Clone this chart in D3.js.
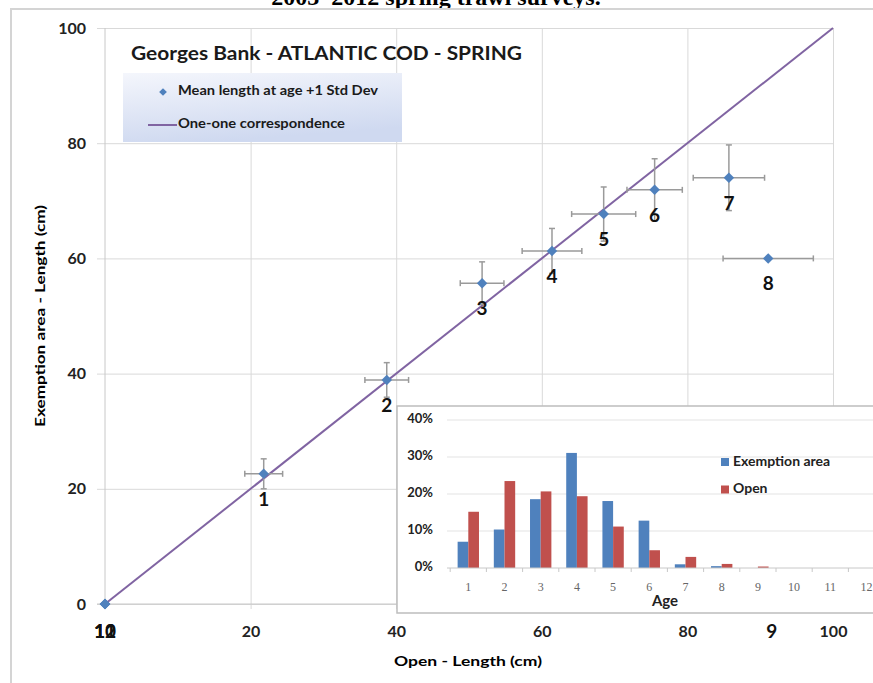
<!DOCTYPE html>
<html>
<head>
<meta charset="utf-8">
<script src="https://cdn.jsdelivr.net/npm/d3@7"></script>
<style>
body { margin: 0; background: #fff; }
text { font-family: Lato, "Open Sans", sans-serif; }
</style>
</head>
<body>
<div id="chart"></div>
<script>
const width = 873;
const height = 683;

// Mean length at age (cm), open area vs exemption area, with 1 std dev
const ages = [1, 2, 3, 4, 5, 6, 7, 8, 9, 10, 11, 12];
const openLen = [21.8, 38.7, 51.8, 61.4, 68.5, 75.5, 85.7, 91.1, 91.6, 0, 0, 0];
const exemptLen = [22.6, 38.9, 55.7, 61.3, 67.7, 71.9, 74.0, 60.0, 0, 0, 0, 0];
const openSd = [2.6, 3.0, 3.0, 4.1, 4.4, 3.8, 4.9, 6.2, 0, 0, 0, 0];
const exemptSd = [2.6, 3.0, 3.7, 3.9, 4.7, 5.4, 5.7, 0, 0, 0, 0, 0];

const xTicks = [20, 40, 60, 80, 100];
const yTicks = [0, 20, 40, 60, 80, 100];

// Inset: proportion at age (%)
const exemptPct = [7.1, 10.4, 18.6, 31.1, 18.1, 12.8, 1.0, 0.5, 0, 0, 0, 0];
const openPct = [15.2, 23.5, 20.7, 19.4, 11.2, 4.8, 3.0, 1.1, 0.4, 0, 0, 0];
const pctTicks = [0, 10, 20, 30, 40];

const blue = "#4f81bd";
const red = "#c0504d";
const purple = "#8064a2";
const gridCol = "#d9d9d9";

const svg = d3.select("#chart").append("svg")
    .attr("width", width)
    .attr("height", height);

// caption cut off by the top of the picture
svg.append("text")
    .attr("x", 436).attr("y", 5)
    .attr("text-anchor", "middle")
    .style("font-family", "'Liberation Serif', serif")
    .style("font-weight", "bold")
    .style("font-size", "24px")
    .text("2003–2012 spring trawl surveys.");

// chart frame
svg.append("path")
    .attr("d", "M11,683 V9 H873")
    .attr("fill", "none")
    .attr("stroke", "#d4d4d4")
    .attr("stroke-width", 2);

const x = d3.scaleLinear().domain([0, 100]).range([105, 833]);
const y = d3.scaleLinear().domain([0, 100]).range([604, 28]);

// y grid + labels
const yAxis = svg.append("g")
    .attr("transform", "translate(97,0)")
    .call(d3.axisLeft(y).tickValues(yTicks).tickSize(-(833 - 97)).tickPadding(11));
yAxis.select(".domain").remove();
yAxis.selectAll("line").attr("stroke", gridCol);
yAxis.selectAll("text")
    .style("font-size", "16px").style("font-weight", "bold").attr("fill", "#222");

// x grid + labels
const xAxis = svg.append("g")
    .attr("transform", "translate(0,609)")
    .call(d3.axisBottom(x).tickValues(xTicks).tickSize(-(609 - 28)).tickPadding(17));
xAxis.select(".domain").remove();
xAxis.selectAll("line").attr("stroke", gridCol);
xAxis.selectAll("text")
    .style("font-size", "16px").style("font-weight", "bold").attr("fill", "#222");

// axis lines
svg.append("line").attr("x1", x(0)).attr("x2", x(0)).attr("y1", y(100)).attr("y2", y(0))
    .attr("stroke", "#c8c8c8");
svg.append("line").attr("x1", 97).attr("x2", x(100)).attr("y1", y(0)).attr("y2", y(0))
    .attr("stroke", "#c8c8c8");

// axis titles
svg.append("text")
    .attr("transform", "translate(41,316) rotate(-90)")
    .attr("text-anchor", "middle")
    .attr("dominant-baseline", "middle")
    .attr("textLength", 222).attr("lengthAdjust", "spacingAndGlyphs")
    .style("font-size", "14px").style("font-weight", "bold")
    .text("Exemption area - Length (cm)");

svg.append("text")
    .attr("x", 468).attr("y", 662)
    .attr("text-anchor", "middle")
    .attr("dominant-baseline", "middle")
    .attr("textLength", 148).attr("lengthAdjust", "spacingAndGlyphs")
    .style("font-size", "14px").style("font-weight", "bold")
    .text("Open - Length (cm)");

// one-one line
svg.append("line")
    .attr("x1", x(0)).attr("y1", y(0))
    .attr("x2", x(100)).attr("y2", y(100))
    .attr("stroke", purple).attr("stroke-width", 2);

const pts = ages.map((a, i) => ({
    age: a, ox: openLen[i], ey: exemptLen[i], osd: openSd[i], esd: exemptSd[i]
}));

// error bars
const eb = svg.append("g").attr("stroke", "#9a9a9a").attr("stroke-width", 1.5);
pts.filter(d => d.osd > 0).forEach(d => {
    eb.append("line").attr("x1", x(d.ox - d.osd)).attr("x2", x(d.ox + d.osd))
        .attr("y1", y(d.ey)).attr("y2", y(d.ey));
    [d.ox - d.osd, d.ox + d.osd].forEach(v => {
        eb.append("line").attr("x1", x(v)).attr("x2", x(v))
            .attr("y1", y(d.ey) - 3).attr("y2", y(d.ey) + 3);
    });
});
pts.filter(d => d.esd > 0).forEach(d => {
    eb.append("line").attr("x1", x(d.ox)).attr("x2", x(d.ox))
        .attr("y1", y(d.ey - d.esd)).attr("y2", y(d.ey + d.esd));
    [d.ey - d.esd, d.ey + d.esd].forEach(v => {
        eb.append("line").attr("x1", x(d.ox) - 3).attr("x2", x(d.ox) + 3)
            .attr("y1", y(v)).attr("y2", y(v));
    });
});

// points
const diamond = d3.symbol().type(d3.symbolSquare).size(55);
svg.append("g").selectAll("path")
    .data(pts)
    .join("path")
    .attr("d", diamond)
    .attr("transform", d => `translate(${x(d.ox)},${y(d.ey)}) rotate(45)`)
    .attr("fill", blue);

// age labels
svg.append("g").selectAll("text")
    .data(pts)
    .join("text")
    .attr("x", d => x(d.ox))
    .attr("y", d => y(d.ey) + (d.ey === 0 ? 29 : 27))
    .attr("text-anchor", "middle")
    .attr("dominant-baseline", "middle")
    .style("font-size", "19px").style("font-weight", "bold")
    .attr("fill", "#111")
    .text(d => d.age);

// title + legend
svg.append("text")
    .attr("x", 131).attr("y", 55)
    .attr("dominant-baseline", "middle")
    .attr("textLength", 391).attr("lengthAdjust", "spacingAndGlyphs")
    .style("font-size", "19px").style("font-weight", "bold")
    .attr("fill", "#1a1a1a")
    .text("Georges Bank - ATLANTIC COD - SPRING");

const grad = svg.append("defs").append("linearGradient")
    .attr("id", "legGrad")
    .attr("x1", "0%").attr("y1", "0%").attr("x2", "30%").attr("y2", "100%");
grad.append("stop").attr("offset", "0%").attr("stop-color", "#f4f6fc");
grad.append("stop").attr("offset", "100%").attr("stop-color", "#cfd9f0");

svg.append("rect")
    .attr("x", 123).attr("y", 73).attr("width", 279).attr("height", 69)
    .attr("fill", "url(#legGrad)");
svg.append("path")
    .attr("d", d3.symbol().type(d3.symbolSquare).size(30))
    .attr("transform", "translate(163,92) rotate(45)")
    .attr("fill", blue);
svg.append("text")
    .attr("x", 178).attr("y", 92).attr("dominant-baseline", "middle")
    .attr("textLength", 200).attr("lengthAdjust", "spacingAndGlyphs")
    .style("font-size", "13px").style("font-weight", "bold").attr("fill", "#1a1a1a")
    .text("Mean length at age +1 Std Dev");
svg.append("line")
    .attr("x1", 148).attr("x2", 177).attr("y1", 125).attr("y2", 125)
    .attr("stroke", purple).attr("stroke-width", 2);
svg.append("text")
    .attr("x", 178).attr("y", 125).attr("dominant-baseline", "middle")
    .attr("textLength", 167).attr("lengthAdjust", "spacingAndGlyphs")
    .style("font-size", "13px").style("font-weight", "bold").attr("fill", "#1a1a1a")
    .text("One-one correspondence");

// ---- inset bar chart ----
const inset = svg.append("g");
inset.append("rect")
    .attr("x", 397).attr("y", 406).attr("width", 490).attr("height", 207)
    .attr("fill", "#fff").attr("stroke", "#bdbdbd").attr("stroke-width", 1.5);

const yi = d3.scaleLinear().domain([0, 40]).range([568, 420]);
const xi = d3.scaleBand().domain(ages).range([450.2, 884.6])
    .paddingInner(0.41).paddingOuter(0.205);
const xs = d3.scaleBand().domain(["ex", "op"]).range([0, xi.bandwidth()]);

inset.append("g").selectAll("line")
    .data(pctTicks.filter(t => t > 0))
    .join("line")
    .attr("x1", 447).attr("x2", 887)
    .attr("y1", d => yi(d)).attr("y2", d => yi(d))
    .attr("stroke", "#e3e3e3");

inset.append("g").selectAll("text")
    .data(pctTicks)
    .join("text")
    .attr("x", 433).attr("y", d => yi(d))
    .attr("text-anchor", "end").attr("dominant-baseline", "middle")
    .style("font-size", "13px").style("font-weight", "bold").attr("fill", "#222")
    .text(d => d + "%");

const bars = ages.map((a, i) => ({ age: a, ex: exemptPct[i], op: openPct[i] }));
inset.append("g").selectAll("rect")
    .data(bars)
    .join("rect")
    .attr("x", d => xi(d.age) + xs("ex"))
    .attr("y", d => yi(d.ex))
    .attr("width", xs.bandwidth())
    .attr("height", d => yi(0) - yi(d.ex))
    .attr("fill", blue);
inset.append("g").selectAll("rect")
    .data(bars)
    .join("rect")
    .attr("x", d => xi(d.age) + xs("op"))
    .attr("y", d => yi(d.op))
    .attr("width", xs.bandwidth())
    .attr("height", d => yi(0) - yi(d.op))
    .attr("fill", red);

const xiAxis = inset.append("g")
    .attr("transform", `translate(0,${yi(0)})`)
    .call(d3.axisBottom(xi).tickSize(0).tickPadding(14));
xiAxis.select(".domain").attr("stroke", "#c8c8c8").attr("d", "M447,0H887");
xiAxis.selectAll("text")
    .style("font-family", "'Liberation Serif', serif")
    .style("font-size", "12px").attr("fill", "#666");
// small ticks between categories
inset.append("g").selectAll("line")
    .data(ages)
    .join("line")
    .attr("x1", d => xi(d) - xi.step() * xi.paddingInner() / 2)
    .attr("x2", d => xi(d) - xi.step() * xi.paddingInner() / 2)
    .attr("y1", yi(0)).attr("y2", yi(0) + 4)
    .attr("stroke", "#c8c8c8");

inset.append("text")
    .attr("x", 665).attr("y", 602)
    .attr("text-anchor", "middle").attr("dominant-baseline", "middle")
    .style("font-size", "15px").style("font-weight", "bold").attr("fill", "#222")
    .text("Age");

const legItems = [["Exemption area", blue], ["Open", red]];
legItems.forEach(([name, col], i) => {
    inset.append("rect")
        .attr("x", 721).attr("y", 458 + i * 27.5).attr("width", 8).attr("height", 8)
        .attr("fill", col);
    inset.append("text")
        .attr("x", 733).attr("y", 462 + i * 27.5).attr("dominant-baseline", "middle")
        .style("font-size", "14px").style("font-weight", "bold").attr("fill", "#222")
        .text(name);
});
</script>
</body>
</html>
